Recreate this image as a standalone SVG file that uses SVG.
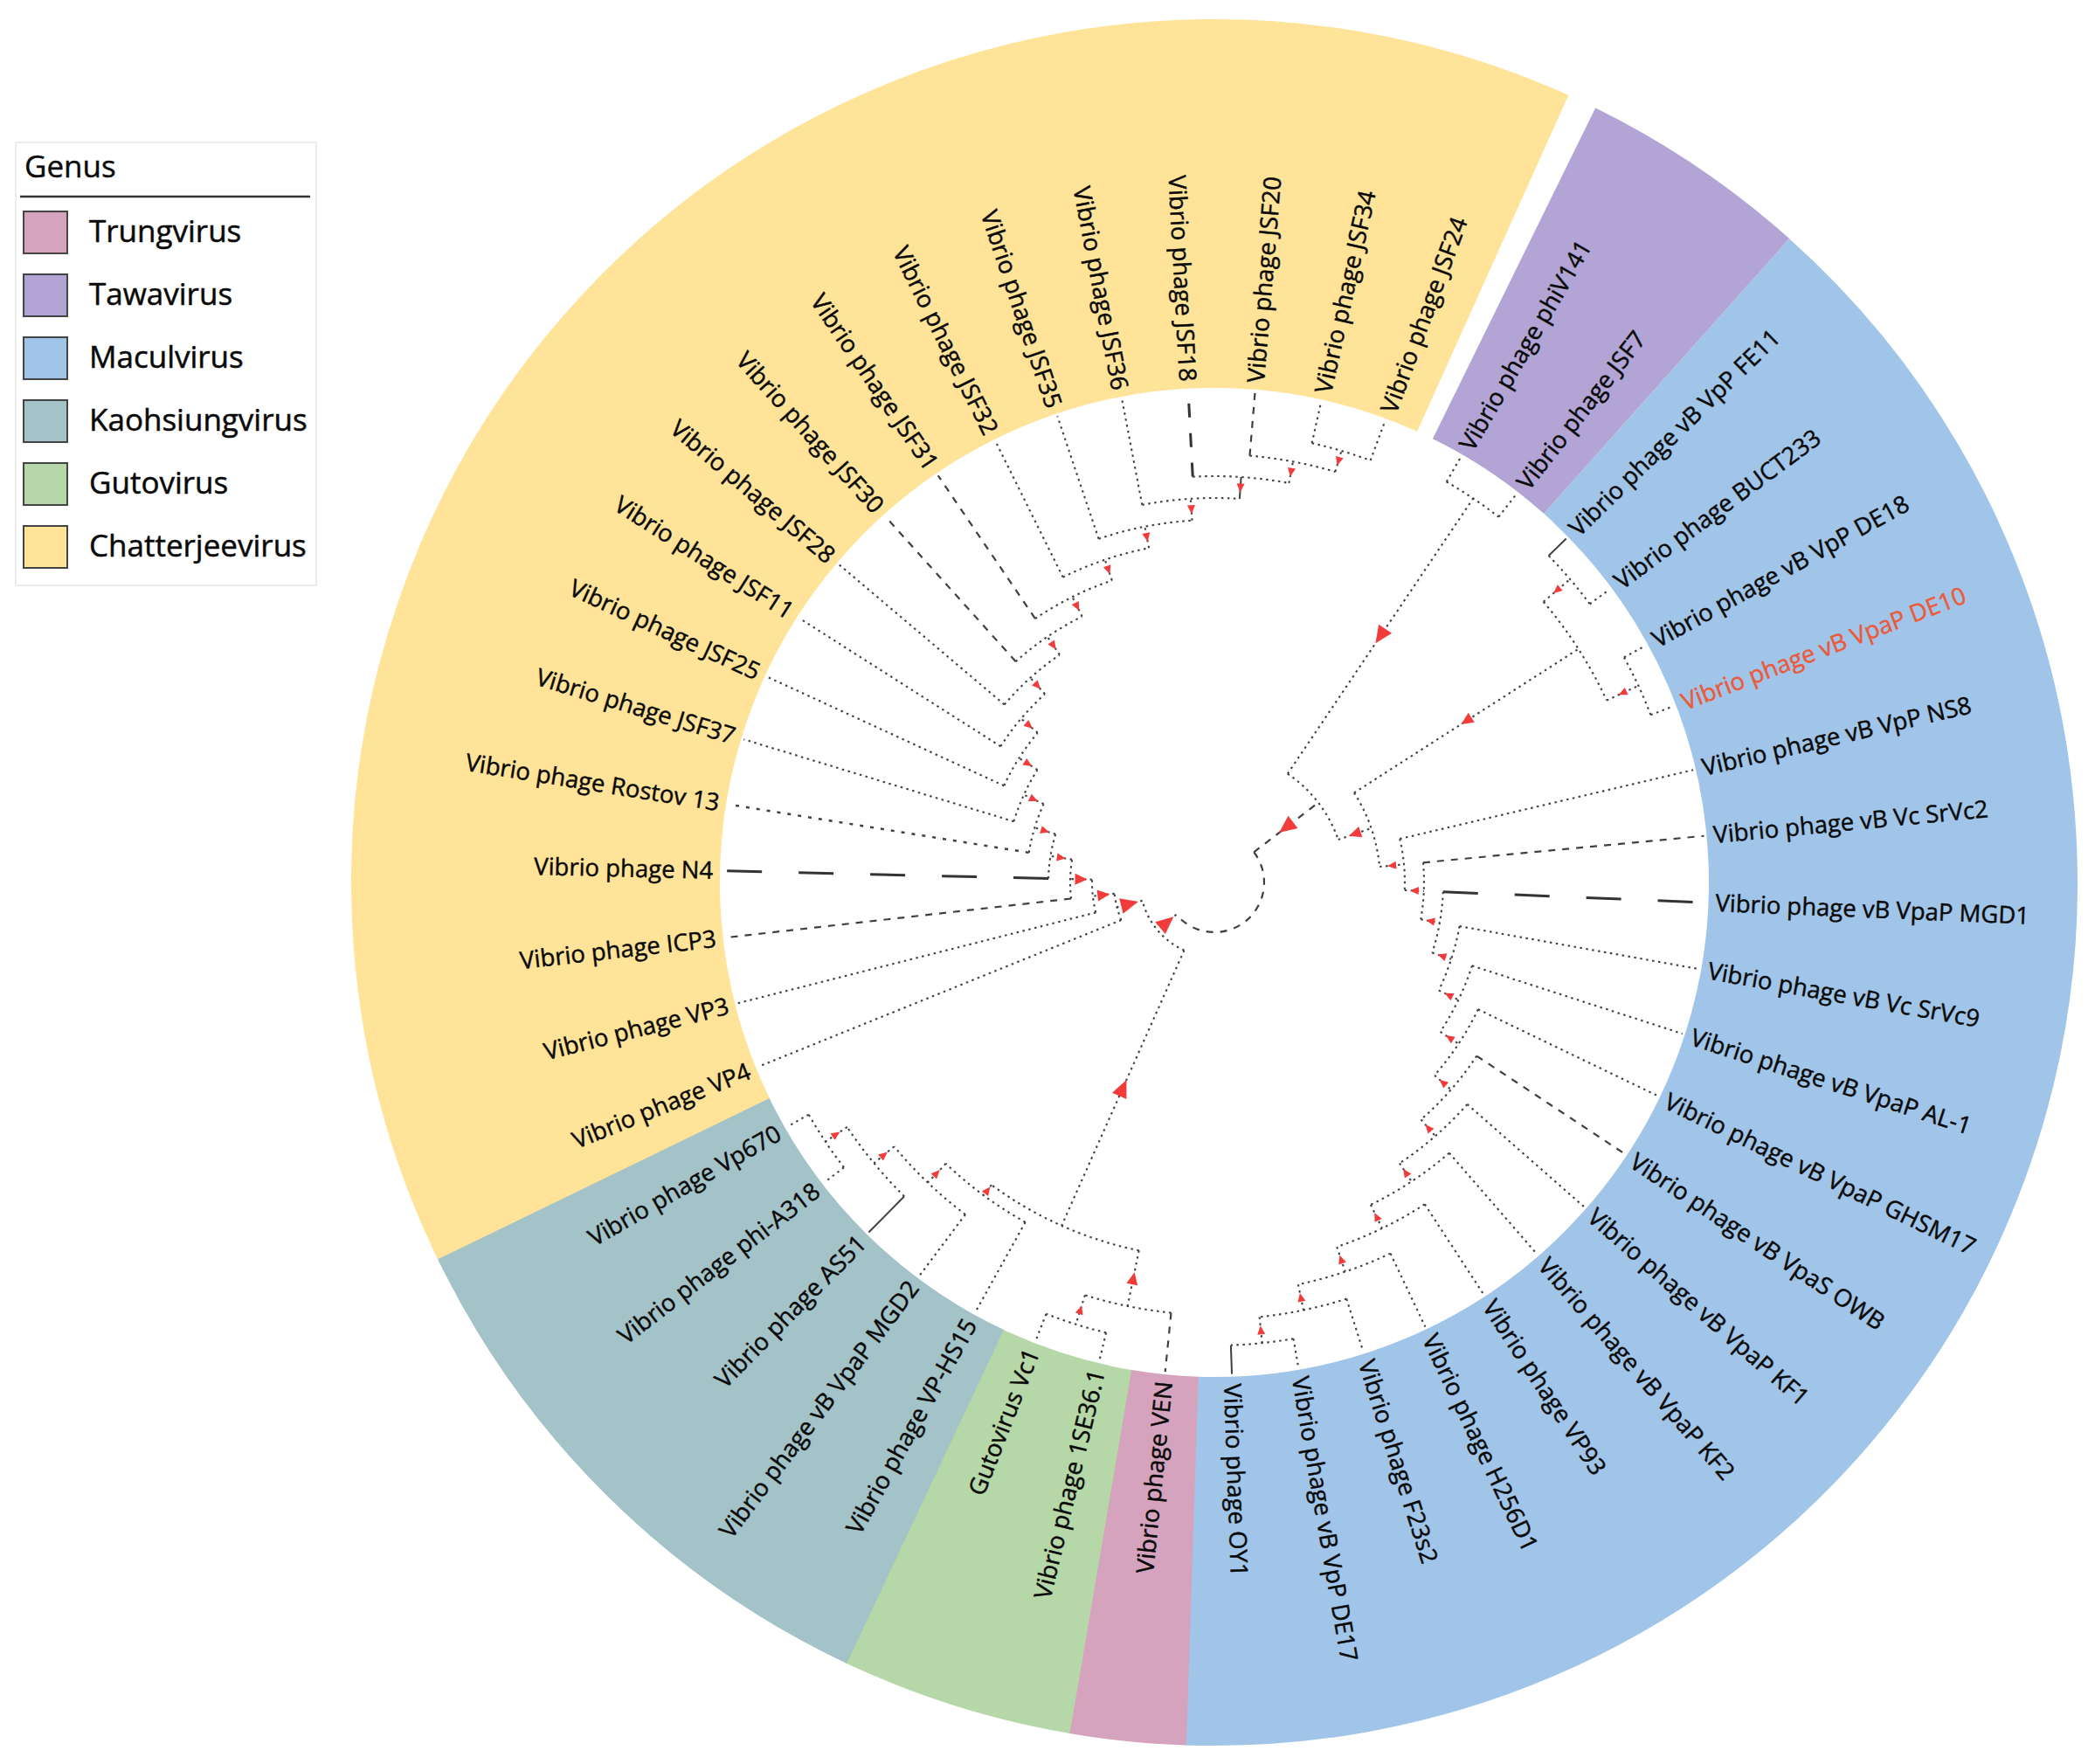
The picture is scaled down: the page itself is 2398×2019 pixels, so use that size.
<svg xmlns="http://www.w3.org/2000/svg" xmlns:xlink="http://www.w3.org/1999/xlink" width="2398" height="2019" viewBox="0 0 2398 2019">
<style>
text{font-family:"Open Sans","Noto Sans","Liberation Sans",sans-serif;fill:#0a0a0a}
.lab{font-size:27.5px;stroke:#0a0a0a;stroke-width:0.45px}
.e{text-anchor:end}
.hl{fill:#EA5A3C;stroke:#EA5A3C}
.lg{font-size:35px;stroke:#0a0a0a;stroke-width:0.5px}
.b{fill:none;stroke:#404040;stroke-width:2.1;stroke-dasharray:2.5 4.5}
.bm{fill:none;stroke:#404040;stroke-width:2.2;stroke-dasharray:8 8}
.bd{fill:none;stroke:#404040;stroke-width:2.5;stroke-dasharray:4 8}
.bl{fill:none;stroke:#333;stroke-width:3;stroke-dasharray:40 42}
.bs{fill:none;stroke:#404040;stroke-width:2}
.sw{stroke:#444;stroke-width:2}
</style>
<defs>
<path id="ts" d="M-5 0L5-4.5L5 4.5Z" fill="#F23B3B"/>
<path id="tm" d="M-7 0L7-6.5L7 6.5Z" fill="#F23B3B"/>
<path id="tl" d="M-10 0L10-9L10 9Z" fill="#F23B3B"/>
</defs>
<rect width="2398" height="2019" fill="#fff"/>

<g id="legend">
<rect x="18" y="163" width="344" height="507" fill="#fff" stroke="#ececec" stroke-width="2"/>
<text x="28" y="203" style="font-size:35px;stroke:#0a0a0a;stroke-width:0.4px">Genus</text>
<line x1="23" y1="225" x2="355" y2="225" stroke="#333" stroke-width="2.5"/>
<g id="legend-trungvirus"><rect class="sw" x="27" y="242" width="50" height="48" fill="#D5A3BD"/><text class="lg" x="102" y="277">Trungvirus</text></g>
<g id="legend-tawavirus"><rect class="sw" x="27" y="314" width="50" height="48" fill="#B2A5D5"/><text class="lg" x="102" y="349">Tawavirus</text></g>
<g id="legend-maculvirus"><rect class="sw" x="27" y="386" width="50" height="48" fill="#A0C5E8"/><text class="lg" x="102" y="421">Maculvirus</text></g>
<g id="legend-kaohsiungvirus"><rect class="sw" x="27" y="458" width="50" height="48" fill="#A3C3C8"/><text class="lg" x="102" y="493">Kaohsiungvirus</text></g>
<g id="legend-gutovirus"><rect class="sw" x="27" y="530" width="50" height="48" fill="#B6D7A7"/><text class="lg" x="102" y="565">Gutovirus</text></g>
<g id="legend-chatterjeevirus"><rect class="sw" x="27" y="602" width="50" height="48" fill="#FEE399"/><text class="lg" x="102" y="637">Chatterjeevirus</text></g>
</g>

<g id="ring" transform="translate(1390 1010)" fill="none" stroke-width="422">
<circle r="777" pathLength="360" stroke="#A0C5E8" stroke-dasharray="140.2 219.8" transform="rotate(-48.23)"/>
<circle r="777" pathLength="360" stroke="#D5A3BD" stroke-dasharray="7.9 352.1" transform="rotate(91.86)"/>
<circle r="777" pathLength="360" stroke="#B6D7A7" stroke-dasharray="15.67 344.33" transform="rotate(99.64)"/>
<circle r="777" pathLength="360" stroke="#A3C3C8" stroke-dasharray="39.01 320.99" transform="rotate(115.21)"/>
<circle r="777" pathLength="360" stroke="#FEE399" stroke-dasharray="140.1 219.9" transform="rotate(154.12)"/>
<circle r="777" pathLength="360" stroke="#B2A5D5" stroke-dasharray="15.57 344.43" transform="rotate(-63.8)"/>
</g>

<g id="connectors" transform="translate(1390 1010)">
<path class="b" d="M530 0H563" transform="rotate(-59.91)"/>
<path class="b" d="M530 0H563" transform="rotate(-52.13)"/>
<path class="bs" d="M535 0H563" transform="rotate(-44.34)"/>
<path class="b" d="M535 0H563" transform="rotate(-36.56)"/>
<path class="b" d="M535 0H563" transform="rotate(-28.78)"/>
<path class="b" d="M535 0H563" transform="rotate(-21)"/>
<path class="b" d="M218 0H563" transform="rotate(-13.22)"/>
<path class="bm" d="M240 0H563" transform="rotate(-5.43)"/>
<path class="bl" d="M262 0H563" transform="rotate(2.35)"/>
<path class="b" d="M285 0H563" transform="rotate(10.13)"/>
<path class="b" d="M310 0H563" transform="rotate(17.91)"/>
<path class="b" d="M335 0H563" transform="rotate(25.7)"/>
<path class="bm" d="M360 0H563" transform="rotate(33.48)"/>
<path class="b" d="M385 0H563" transform="rotate(41.26)"/>
<path class="b" d="M410 0H563" transform="rotate(49.04)"/>
<path class="b" d="M440 0H563" transform="rotate(56.83)"/>
<path class="b" d="M470 0H563" transform="rotate(64.61)"/>
<path class="b" d="M500 0H563" transform="rotate(72.39)"/>
<path class="b" d="M530 0H563" transform="rotate(80.17)"/>
<path class="bs" d="M530 0H563" transform="rotate(87.96)"/>
<path class="bm" d="M495 0H563" transform="rotate(95.74)"/>
<path class="b" d="M530 0H563" transform="rotate(103.52)"/>
<path class="b" d="M530 0H563" transform="rotate(111.3)"/>
<path class="b" d="M445 0H563" transform="rotate(119.09)"/>
<path class="b" d="M475 0H563" transform="rotate(126.87)"/>
<path class="bs" d="M505 0H563" transform="rotate(134.65)"/>
<path class="b" d="M535 0H563" transform="rotate(142.43)"/>
<path class="b" d="M535 0H563" transform="rotate(150.22)"/>
<path class="b" d="M115 0H563" transform="rotate(158)"/>
<path class="b" d="M140 0H563" transform="rotate(165.78)"/>
<path class="bm" d="M165 0H563" transform="rotate(173.56)"/>
<path class="bl" d="M190 0H563" transform="rotate(181.35)"/>
<path class="bd" d="M215 0H563" transform="rotate(189.13)"/>
<path class="b" d="M240 0H563" transform="rotate(196.91)"/>
<path class="b" d="M265 0H563" transform="rotate(204.69)"/>
<path class="b" d="M290 0H563" transform="rotate(212.48)"/>
<path class="b" d="M315 0H563" transform="rotate(220.26)"/>
<path class="bm" d="M340 0H563" transform="rotate(228.04)"/>
<path class="bm" d="M365 0H563" transform="rotate(235.82)"/>
<path class="b" d="M390 0H563" transform="rotate(243.61)"/>
<path class="b" d="M415 0H563" transform="rotate(251.39)"/>
<path class="b" d="M440 0H563" transform="rotate(259.17)"/>
<path class="bl" style="stroke-dasharray:16 18" d="M465 0H563" transform="rotate(266.95)"/>
<path class="bm" d="M490 0H563" transform="rotate(274.74)"/>
<path class="b" d="M515 0H563" transform="rotate(282.52)"/>
<path class="b" d="M515 0H563" transform="rotate(290.3)"/>
<path class="b" d="M150 0H530" transform="rotate(-56.02)"/>
<path class="b" d="M495 0H535" transform="rotate(-40.45)"/>
<path class="b" d="M495 0H535" transform="rotate(-24.89)"/>
<path class="b" d="M190 0H495" transform="rotate(-32.67)"/>
<path class="b" d="M500 0H530" transform="rotate(84.07)"/>
<path class="b" d="M470 0H500" transform="rotate(78.23)"/>
<path class="b" d="M440 0H470" transform="rotate(71.42)"/>
<path class="b" d="M410 0H440" transform="rotate(64.13)"/>
<path class="b" d="M385 0H410" transform="rotate(56.59)"/>
<path class="b" d="M360 0H385" transform="rotate(48.93)"/>
<path class="b" d="M335 0H360" transform="rotate(41.21)"/>
<path class="b" d="M310 0H335" transform="rotate(33.46)"/>
<path class="b" d="M285 0H310" transform="rotate(25.69)"/>
<path class="b" d="M262 0H285" transform="rotate(17.91)"/>
<path class="b" d="M240 0H262" transform="rotate(10.13)"/>
<path class="b" d="M218 0H240" transform="rotate(2.35)"/>
<path class="b" d="M190 0H218" transform="rotate(-5.43)"/>
<path class="b" d="M150 0H190" transform="rotate(-19.05)"/>
<path class="bm" d="M57 0H150" transform="rotate(-37.53)"/>
<path class="b" d="M490 0H515" transform="rotate(286.41)"/>
<path class="b" d="M465 0H490" transform="rotate(280.58)"/>
<path class="bs" d="M440 0H465" transform="rotate(273.77)"/>
<path class="b" d="M415 0H440" transform="rotate(266.47)"/>
<path class="b" d="M390 0H415" transform="rotate(258.93)"/>
<path class="b" d="M365 0H390" transform="rotate(251.27)"/>
<path class="b" d="M340 0H365" transform="rotate(243.55)"/>
<path class="b" d="M315 0H340" transform="rotate(235.8)"/>
<path class="b" d="M290 0H315" transform="rotate(228.03)"/>
<path class="b" d="M265 0H290" transform="rotate(220.26)"/>
<path class="b" d="M240 0H265" transform="rotate(212.48)"/>
<path class="b" d="M215 0H240" transform="rotate(204.7)"/>
<path class="b" d="M190 0H215" transform="rotate(196.92)"/>
<path class="b" d="M165 0H190" transform="rotate(189.14)"/>
<path class="b" d="M140 0H165" transform="rotate(181.35)"/>
<path class="b" d="M115 0H140" transform="rotate(173.57)"/>
<path class="b" d="M85 0H115" transform="rotate(165.79)"/>
<path class="b" d="M505 0H535" transform="rotate(146.33)"/>
<path class="b" d="M475 0H505" transform="rotate(140.49)"/>
<path class="b" d="M445 0H475" transform="rotate(133.68)"/>
<path class="b" d="M430 0H445" transform="rotate(126.39)"/>
<path class="b" d="M495 0H530" transform="rotate(107.41)"/>
<path class="b" d="M430 0H495" transform="rotate(101.58)"/>
<path class="b" d="M85 0H430" transform="rotate(113.99)"/>
<path class="b" d="M57 0H85" transform="rotate(139.89)"/>
<path class="b" d="M530 0A530 530 0 0 1 525.12 71.75" transform="rotate(-59.91)"/>
<path class="b" d="M535 0A535 535 0 0 1 530.07 72.42" transform="rotate(-44.34)"/>
<path class="b" d="M535 0A535 535 0 0 1 530.07 72.42" transform="rotate(-28.78)"/>
<path class="b" d="M495 0A495 495 0 0 1 477 132.28" transform="rotate(-40.45)"/>
<path class="b" d="M530 0A530 530 0 0 1 525.12 71.75" transform="rotate(80.17)"/>
<path class="b" d="M500 0A500 500 0 0 1 489.65 101.22" transform="rotate(72.39)"/>
<path class="b" d="M470 0A470 470 0 0 1 456.78 110.68" transform="rotate(64.61)"/>
<path class="b" d="M440 0A440 440 0 0 1 425.79 110.91" transform="rotate(56.83)"/>
<path class="b" d="M410 0A410 410 0 0 1 395.84 106.81" transform="rotate(49.04)"/>
<path class="b" d="M385 0A385 385 0 0 1 371.3 101.79" transform="rotate(41.26)"/>
<path class="b" d="M360 0A360 360 0 0 1 346.91 96.21" transform="rotate(33.48)"/>
<path class="b" d="M335 0A335 335 0 0 1 322.82 89.53" transform="rotate(25.7)"/>
<path class="b" d="M310 0A310 310 0 0 1 298.73 82.84" transform="rotate(17.91)"/>
<path class="b" d="M285 0A285 285 0 0 1 274.63 76.16" transform="rotate(10.13)"/>
<path class="b" d="M262 0A262 262 0 0 1 252.47 70.02" transform="rotate(2.35)"/>
<path class="b" d="M240 0A240 240 0 0 1 231.27 64.14" transform="rotate(-5.43)"/>
<path class="b" d="M218 0A218 218 0 0 1 210.07 58.26" transform="rotate(-13.22)"/>
<path class="b" d="M190 0A190 190 0 0 1 168.93 86.97" transform="rotate(-32.67)"/>
<path class="b" d="M150 0A150 150 0 0 1 119.84 90.21" transform="rotate(-56.02)"/>
<path class="b" d="M515 0A515 515 0 0 1 510.26 69.72" transform="rotate(-77.48)"/>
<path class="b" d="M490 0A490 490 0 0 1 479.86 99.2" transform="rotate(-85.26)"/>
<path class="b" d="M465 0A465 465 0 0 1 451.92 109.5" transform="rotate(266.95)"/>
<path class="b" d="M440 0A440 440 0 0 1 425.79 110.91" transform="rotate(259.17)"/>
<path class="b" d="M415 0A415 415 0 0 1 400.67 108.11" transform="rotate(251.39)"/>
<path class="b" d="M390 0A390 390 0 0 1 376.12 103.11" transform="rotate(243.61)"/>
<path class="b" d="M365 0A365 365 0 0 1 351.72 97.54" transform="rotate(235.82)"/>
<path class="b" d="M340 0A340 340 0 0 1 327.63 90.86" transform="rotate(228.04)"/>
<path class="b" d="M315 0A315 315 0 0 1 303.54 84.18" transform="rotate(220.26)"/>
<path class="b" d="M290 0A290 290 0 0 1 279.45 77.5" transform="rotate(212.48)"/>
<path class="b" d="M265 0A265 265 0 0 1 255.36 70.82" transform="rotate(204.69)"/>
<path class="b" d="M240 0A240 240 0 0 1 231.27 64.14" transform="rotate(196.91)"/>
<path class="b" d="M215 0A215 215 0 0 1 207.18 57.46" transform="rotate(189.13)"/>
<path class="b" d="M190 0A190 190 0 0 1 183.09 50.78" transform="rotate(181.35)"/>
<path class="b" d="M165 0A165 165 0 0 1 159 44.09" transform="rotate(173.56)"/>
<path class="b" d="M140 0A140 140 0 0 1 134.91 37.41" transform="rotate(165.78)"/>
<path class="b" d="M115 0A115 115 0 0 1 110.82 30.73" transform="rotate(158)"/>
<path class="b" d="M535 0A535 535 0 0 1 530.07 72.42" transform="rotate(142.43)"/>
<path class="b" d="M505 0A505 505 0 0 1 494.55 102.23" transform="rotate(134.65)"/>
<path class="b" d="M475 0A475 475 0 0 1 461.64 111.85" transform="rotate(126.87)"/>
<path class="b" d="M445 0A445 445 0 0 1 430.63 112.17" transform="rotate(119.09)"/>
<path class="b" d="M530 0A530 530 0 0 1 525.12 71.75" transform="rotate(103.52)"/>
<path class="b" d="M495 0A495 495 0 0 1 484.75 100.21" transform="rotate(95.74)"/>
<path class="b" d="M430 0A430 430 0 0 1 390.32 180.43" transform="rotate(101.58)"/>
<path class="b" d="M85 0A85 85 0 0 1 52.56 66.8" transform="rotate(113.99)"/>
<path class="bm" d="M57 0A57 57 0 0 1 -56.94 2.57" transform="rotate(-37.53)"/>
</g>

<g id="support-markers" transform="translate(1390 1010)">
<use href="#tl" transform="rotate(-56.02) translate(340 0)"/>
<use href="#ts" transform="rotate(-40.45) translate(515 0)"/>
<use href="#ts" transform="rotate(-24.89) translate(515 0)"/>
<use href="#tm" transform="rotate(-32.67) translate(342.5 0)"/>
<use href="#ts" transform="rotate(84.07) translate(515 0)"/>
<use href="#ts" transform="rotate(78.23) translate(485 0)"/>
<use href="#ts" transform="rotate(71.42) translate(455 0)"/>
<use href="#ts" transform="rotate(64.13) translate(425 0)"/>
<use href="#ts" transform="rotate(56.59) translate(397.5 0)"/>
<use href="#ts" transform="rotate(48.93) translate(372.5 0)"/>
<use href="#ts" transform="rotate(41.21) translate(347.5 0)"/>
<use href="#ts" transform="rotate(33.46) translate(322.5 0)"/>
<use href="#ts" transform="rotate(25.69) translate(297.5 0)"/>
<use href="#ts" transform="rotate(17.91) translate(273.5 0)"/>
<use href="#ts" transform="rotate(10.13) translate(251 0)"/>
<use href="#ts" transform="rotate(2.35) translate(229 0)"/>
<use href="#ts" transform="rotate(-5.43) translate(204 0)"/>
<use href="#tm" transform="rotate(-19.05) translate(170 0)"/>
<use href="#tl" transform="rotate(-37.53) translate(103.5 0)"/>
<use href="#ts" transform="rotate(286.41) translate(502.5 0)"/>
<use href="#ts" transform="rotate(280.58) translate(477.5 0)"/>
<use href="#ts" transform="rotate(273.77) translate(452.5 0)"/>
<use href="#ts" transform="rotate(266.47) translate(427.5 0)"/>
<use href="#ts" transform="rotate(258.93) translate(402.5 0)"/>
<use href="#ts" transform="rotate(251.27) translate(377.5 0)"/>
<use href="#ts" transform="rotate(243.55) translate(352.5 0)"/>
<use href="#ts" transform="rotate(235.8) translate(327.5 0)"/>
<use href="#ts" transform="rotate(228.03) translate(302.5 0)"/>
<use href="#ts" transform="rotate(220.26) translate(277.5 0)"/>
<use href="#ts" transform="rotate(212.48) translate(252.5 0)"/>
<use href="#ts" transform="rotate(204.7) translate(227.5 0)"/>
<use href="#ts" transform="rotate(196.92) translate(202.5 0)"/>
<use href="#ts" transform="rotate(189.14) translate(177.5 0)"/>
<use href="#tm" transform="rotate(181.35) translate(152.5 0)"/>
<use href="#tm" transform="rotate(173.57) translate(127.5 0)"/>
<use href="#tl" transform="rotate(165.79) translate(100 0)"/>
<use href="#ts" transform="rotate(146.33) translate(520 0)"/>
<use href="#ts" transform="rotate(140.49) translate(490 0)"/>
<use href="#ts" transform="rotate(133.68) translate(460 0)"/>
<use href="#ts" transform="rotate(126.39) translate(437.5 0)"/>
<use href="#ts" transform="rotate(107.41) translate(512.5 0)"/>
<use href="#tm" transform="rotate(101.58) translate(462.5 0)"/>
<use href="#tl" transform="rotate(113.99) translate(257.5 0)"/>
<use href="#tl" transform="rotate(139.89) translate(71 0)"/>
</g>

<g id="leaves" transform="translate(1390 1010)">
<g id="leaf-phiV141"><text class="lab" transform="rotate(-59.91)" x="574" y="9.5">Vibrio phage phiV141</text></g>
<g id="leaf-JSF7"><text class="lab" transform="rotate(-52.13)" x="574" y="9.5">Vibrio phage JSF7</text></g>
<g id="leaf-FE11"><text class="lab" transform="rotate(-44.34)" x="574" y="9.5">Vibrio phage vB VpP FE11</text></g>
<g id="leaf-BUCT233"><text class="lab" transform="rotate(-36.56)" x="574" y="9.5">Vibrio phage BUCT233</text></g>
<g id="leaf-DE18"><text class="lab" transform="rotate(-28.78)" x="574" y="9.5">Vibrio phage vB VpP DE18</text></g>
<g id="leaf-DE10"><text class="lab hl" transform="rotate(-21)" x="574" y="9.5">Vibrio phage vB VpaP DE10</text></g>
<g id="leaf-NS8"><text class="lab" transform="rotate(-13.22)" x="574" y="9.5">Vibrio phage vB VpP NS8</text></g>
<g id="leaf-SrVc2"><text class="lab" transform="rotate(-5.43)" x="574" y="9.5">Vibrio phage vB Vc SrVc2</text></g>
<g id="leaf-MGD1"><text class="lab" transform="rotate(2.35)" x="574" y="9.5">Vibrio phage vB VpaP MGD1</text></g>
<g id="leaf-SrVc9"><text class="lab" transform="rotate(10.13)" x="574" y="9.5">Vibrio phage vB Vc SrVc9</text></g>
<g id="leaf-AL-1"><text class="lab" transform="rotate(17.91)" x="574" y="9.5">Vibrio phage vB VpaP AL-1</text></g>
<g id="leaf-GHSM17"><text class="lab" transform="rotate(25.7)" x="574" y="9.5">Vibrio phage vB VpaP GHSM17</text></g>
<g id="leaf-OWB"><text class="lab" transform="rotate(33.48)" x="574" y="9.5">Vibrio phage vB VpaS OWB</text></g>
<g id="leaf-KF1"><text class="lab" transform="rotate(41.26)" x="574" y="9.5">Vibrio phage vB VpaP KF1</text></g>
<g id="leaf-KF2"><text class="lab" transform="rotate(49.04)" x="574" y="9.5">Vibrio phage vB VpaP KF2</text></g>
<g id="leaf-VP93"><text class="lab" transform="rotate(56.83)" x="574" y="9.5">Vibrio phage VP93</text></g>
<g id="leaf-H256D1"><text class="lab" transform="rotate(64.61)" x="574" y="9.5">Vibrio phage H256D1</text></g>
<g id="leaf-F23s2"><text class="lab" transform="rotate(72.39)" x="574" y="9.5">Vibrio phage F23s2</text></g>
<g id="leaf-DE17"><text class="lab" transform="rotate(80.17)" x="574" y="9.5">Vibrio phage vB VpP DE17</text></g>
<g id="leaf-OY1"><text class="lab" transform="rotate(87.96)" x="574" y="9.5">Vibrio phage OY1</text></g>
<g id="leaf-VEN"><text class="lab e" transform="rotate(-84.26)" x="-574" y="9.5">Vibrio phage VEN</text></g>
<g id="leaf-1SE36.1"><text class="lab e" transform="rotate(-76.48)" x="-574" y="9.5">Vibrio phage 1SE36.1</text></g>
<g id="leaf-Vc1"><text class="lab e" transform="rotate(-68.7)" x="-574" y="9.5">Gutovirus Vc1</text></g>
<g id="leaf-VP-HS15"><text class="lab e" transform="rotate(-60.91)" x="-574" y="9.5">Vibrio phage VP-HS15</text></g>
<g id="leaf-MGD2"><text class="lab e" transform="rotate(-53.13)" x="-574" y="9.5">Vibrio phage vB VpaP MGD2</text></g>
<g id="leaf-AS51"><text class="lab e" transform="rotate(-45.35)" x="-574" y="9.5">Vibrio phage AS51</text></g>
<g id="leaf-phi-A318"><text class="lab e" transform="rotate(-37.57)" x="-574" y="9.5">Vibrio phage phi-A318</text></g>
<g id="leaf-Vp670"><text class="lab e" transform="rotate(-29.78)" x="-574" y="9.5">Vibrio phage Vp670</text></g>
<g id="leaf-VP4"><text class="lab e" transform="rotate(-22)" x="-574" y="9.5">Vibrio phage VP4</text></g>
<g id="leaf-VP3"><text class="lab e" transform="rotate(-14.22)" x="-574" y="9.5">Vibrio phage VP3</text></g>
<g id="leaf-ICP3"><text class="lab e" transform="rotate(-6.44)" x="-574" y="9.5">Vibrio phage ICP3</text></g>
<g id="leaf-N4"><text class="lab e" transform="rotate(1.35)" x="-574" y="9.5">Vibrio phage N4</text></g>
<g id="leaf-Rostov13"><text class="lab e" transform="rotate(9.13)" x="-574" y="9.5">Vibrio phage Rostov 13</text></g>
<g id="leaf-JSF37"><text class="lab e" transform="rotate(16.91)" x="-574" y="9.5">Vibrio phage JSF37</text></g>
<g id="leaf-JSF25"><text class="lab e" transform="rotate(24.69)" x="-574" y="9.5">Vibrio phage JSF25</text></g>
<g id="leaf-JSF11"><text class="lab e" transform="rotate(32.48)" x="-574" y="9.5">Vibrio phage JSF11</text></g>
<g id="leaf-JSF28"><text class="lab e" transform="rotate(40.26)" x="-574" y="9.5">Vibrio phage JSF28</text></g>
<g id="leaf-JSF30"><text class="lab e" transform="rotate(48.04)" x="-574" y="9.5">Vibrio phage JSF30</text></g>
<g id="leaf-JSF31"><text class="lab e" transform="rotate(55.82)" x="-574" y="9.5">Vibrio phage JSF31</text></g>
<g id="leaf-JSF32"><text class="lab e" transform="rotate(63.61)" x="-574" y="9.5">Vibrio phage JSF32</text></g>
<g id="leaf-JSF35"><text class="lab e" transform="rotate(71.39)" x="-574" y="9.5">Vibrio phage JSF35</text></g>
<g id="leaf-JSF36"><text class="lab e" transform="rotate(79.17)" x="-574" y="9.5">Vibrio phage JSF36</text></g>
<g id="leaf-JSF18"><text class="lab e" transform="rotate(86.95)" x="-574" y="9.5">Vibrio phage JSF18</text></g>
<g id="leaf-JSF20"><text class="lab" transform="rotate(-85.26)" x="574" y="9.5">Vibrio phage JSF20</text></g>
<g id="leaf-JSF34"><text class="lab" transform="rotate(-77.48)" x="574" y="9.5">Vibrio phage JSF34</text></g>
<g id="leaf-JSF24"><text class="lab" transform="rotate(-69.7)" x="574" y="9.5">Vibrio phage JSF24</text></g>
</g>
</svg>
